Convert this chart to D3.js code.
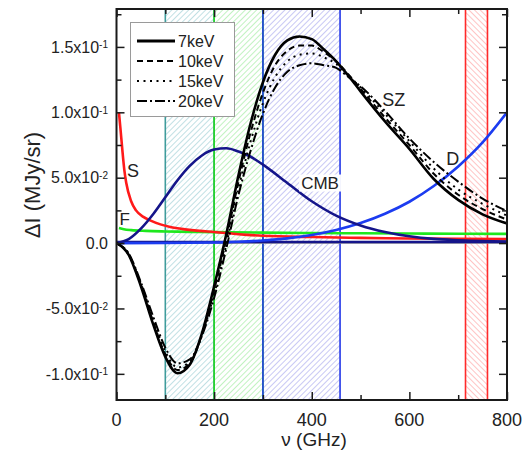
<!DOCTYPE html>
<html>
<head>
<meta charset="utf-8">
<style>
body{ margin:0; background:#fff; }
svg{ display:block; font-family:"Liberation Sans", Arial, sans-serif; }
.axis path{ display:none; }
.axis line{ stroke:#1a1a1a; stroke-width:1.5px; }
.axis text{ fill:#222; }
.curve{ fill:none; stroke-linejoin:round; }
</style>
</head>
<body>
<script src="https://cdn.jsdelivr.net/npm/d3@7/dist/d3.min.js"></script>
<script>
var WIDTH = 523, HEIGHT = 453;
var LEFT = 116.5, RIGHT = 507, TOP = 9, BOTTOM = 400;

// frequencies (GHz) and values (MJy/sr)
var szNu   = [0,25,50,75,100,125,150,175,200,225,250,275,300,325,350,375,400,425,450,475,500,550,600,650,700,750,800];
var sz7    = [0,-0.009,-0.033,-0.062,-0.087,-0.0995,-0.093,-0.069,-0.033,0.007,0.052,0.092,0.123,0.144,0.155,0.158,0.156,0.148,0.139,0.128,0.116,0.093,0.072,0.049,0.033,0.022,0.015];
var sz10   = [0,-0.0088,-0.032,-0.060,-0.085,-0.097,-0.092,-0.070,-0.036,0.003,0.047,0.085,0.115,0.136,0.147,0.151,0.151,0.146,0.139,0.129,0.118,0.096,0.075,0.053,0.037,0.026,0.018];
var sz15   = [0,-0.0085,-0.031,-0.058,-0.083,-0.095,-0.091,-0.070,-0.039,-0.001,0.042,0.078,0.107,0.127,0.139,0.144,0.145,0.142,0.137,0.128,0.119,0.099,0.078,0.057,0.041,0.030,0.021];
var sz20   = [0,-0.008,-0.030,-0.056,-0.080,-0.092,-0.089,-0.071,-0.042,-0.004,0.037,0.071,0.099,0.119,0.131,0.136,0.1375,0.136,0.134,0.127,0.120,0.101,0.080,0.062,0.047,0.034,0.0245];

var cmbNu  = [0,25,50,75,100,125,150,175,200,225,250,275,300,350,400,450,500,550,600,650,700,750,800];
var cmb    = [0,0.003,0.011,0.022,0.035,0.048,0.059,0.067,0.0715,0.0725,0.070,0.066,0.060,0.046,0.032,0.021,0.0135,0.0085,0.0052,0.0032,0.0022,0.0015,0.0012];

var dustNu = [0,100,200,250,300,350,400,450,500,550,600,650,700,750,800];
var dust   = [0,0.0001,0.0004,0.001,0.002,0.0036,0.0062,0.010,0.0153,0.0224,0.0316,0.0436,0.0586,0.077,0.1];

var syncNu = [5,8,12,16,20,30,40,55,70,90,110,140,170,200,250,300,400,500,600,700,800];
var sync   = [0.100,0.088,0.071,0.056,0.046,0.032,0.025,0.020,0.0172,0.0143,0.0123,0.0105,0.0093,0.0085,0.0068,0.0056,0.0046,0.0040,0.0035,0.0032,0.0030];

var ffNu   = [5,15,30,60,100,150,200,300,400,500,600,700,800];
var ff     = [0.0115,0.0106,0.0099,0.0093,0.0089,0.0086,0.0084,0.0080,0.0077,0.0075,0.0073,0.0071,0.0070];

var baseNu = [0,800];
var base   = [0.0008,0.0008];

// observing bands (GHz)
var bands = [
  {from:100, to:200, stroke:"#3f9c9c", hatch:"#a6d2d8", dir:45},
  {from:200, to:300, stroke:"#22d822", hatch:"#a6eca6", dir:45},
  {from:300, to:458, stroke:"#2438e8", hatch:"#b0b0f0", dir:45},
  {from:715, to:760, stroke:"#ff2a2a", hatch:"#ffaaaa", dir:-45}
];

var xMajor = [0,200,400,600,800];
var xMinor = [100,300,500,700];
var yMajor = [-0.1,-0.05,0,0.05,0.1,0.15];
var yMinor = [-0.075,-0.025,0.025,0.075,0.125,0.175];
var yLabels = [["-1.0x10","-1"],["-5.0x10","-2"],["0.0",""],["5.0x10","-2"],["1.0x10","-1"],["1.5x10","-1"]];

var legendNames = ["7keV","10keV","15keV","20keV"];
var szSeries = [sz7, sz10, sz15, sz20];
var dashes = [null, "6,4", "2,4.5", "10,3,2,3"];
var widths = [2.6, 2, 2, 2];

var xScale = d3.scaleLinear().domain([0,800]).range([LEFT, RIGHT]);
var yScale = d3.scaleLinear().domain([-0.12,0.179]).range([BOTTOM, TOP]);

var svg = d3.select("body").append("svg")
  .attr("width", WIDTH)
  .attr("height", HEIGHT);

var defs = svg.append("defs");
defs.append("clipPath").attr("id","plotClip")
  .append("rect")
    .attr("x", LEFT).attr("y", TOP)
    .attr("width", RIGHT-LEFT).attr("height", BOTTOM-TOP);

bands.forEach(function(b, i){
  var p = defs.append("pattern")
    .attr("id", "hatch"+i)
    .attr("patternUnits", "userSpaceOnUse")
    .attr("width", 4).attr("height", 4)
    .attr("patternTransform", "rotate(" + b.dir + ")");
  p.append("line")
    .attr("x1", 0).attr("y1", 0).attr("x2", 0).attr("y2", 4)
    .attr("stroke", b.hatch).attr("stroke-width", 1.4);
});

// bands
var bandG = svg.append("g");
bands.forEach(function(b, i){
  bandG.append("rect")
    .attr("x", xScale(b.from)).attr("y", TOP)
    .attr("width", xScale(b.to)-xScale(b.from)).attr("height", BOTTOM-TOP)
    .attr("fill", "url(#hatch"+i+")");
});
bands.forEach(function(b){
  [b.from, b.to].forEach(function(v){
    bandG.append("line")
      .attr("x1", xScale(v)).attr("x2", xScale(v))
      .attr("y1", TOP).attr("y2", BOTTOM)
      .attr("stroke", b.stroke).attr("stroke-width", 1.6);
  });
});

var plotArea = svg.append("g").attr("clip-path","url(#plotClip)");

var line = d3.line()
  .x(function(d){ return xScale(d[0]); })
  .y(function(d){ return yScale(d[1]); })
  .curve(d3.curveMonotoneX);

function pairs(xs, ys){ return xs.map(function(x,i){ return [x, ys[i]]; }); }

// zero line
plotArea.append("line")
  .attr("x1", xScale(0)).attr("x2", xScale(800))
  .attr("y1", yScale(0)).attr("y2", yScale(0))
  .attr("stroke", "#999").attr("stroke-width", 1.2);

function drawCurve(xs, ys, color, w, dash){
  var p = plotArea.append("path")
    .attr("class","curve")
    .attr("d", line(pairs(xs, ys)))
    .attr("stroke", color)
    .attr("stroke-width", w);
  if (dash) p.attr("stroke-dasharray", dash);
  return p;
}

drawCurve(ffNu, ff, "#1ee81e", 2.6);
drawCurve(syncNu, sync, "#ff1a1a", 2.6);
drawCurve(baseNu, base, "#15158a", 2.6);
drawCurve(dustNu, dust, "#1c3cf0", 2.6);
drawCurve(cmbNu, cmb, "#15158a", 2.6);
szSeries.forEach(function(s, i){
  drawCurve(szNu, s, "#000", widths[i], dashes[i]);
});

// curve labels
var notes = [
  {t:"S",   nu:34,  v:0.0552, size:18},
  {t:"F",   nu:17,  v:0.0185, size:17},
  {t:"CMB", nu:417, v:0.0464, size:17, box:true},
  {t:"SZ",  nu:568, v:0.110,  size:18},
  {t:"D",   nu:689, v:0.0648, size:18}
];
notes.forEach(function(n){
  var g = svg.append("g");
  var t = g.append("text")
    .attr("x", xScale(n.nu)).attr("y", yScale(n.v))
    .attr("dy", "0.36em")
    .attr("text-anchor", "middle")
    .style("font-size", n.size + "px")
    .attr("fill", "#222")
    .text(n.t);
  if (n.box){
    var bb = t.node().getBBox();
    g.insert("rect", "text")
      .attr("x", bb.x-2).attr("y", bb.y+1)
      .attr("width", bb.width+4).attr("height", bb.height-2)
      .attr("fill", "#fff");
  }
});

// axes: ticks point inward on all four sides
function tickAxis(axisFn, scale, values, size, transform){
  svg.append("g").attr("class","axis")
    .attr("transform", transform)
    .call(axisFn(scale).tickValues(values).tickSize(-size).tickFormat(""));
}
tickAxis(d3.axisBottom, xScale, xMajor, 8, "translate(0," + BOTTOM + ")");
tickAxis(d3.axisBottom, xScale, xMinor, 5, "translate(0," + BOTTOM + ")");
tickAxis(d3.axisTop, xScale, xMajor, 8, "translate(0," + TOP + ")");
tickAxis(d3.axisTop, xScale, xMinor, 5, "translate(0," + TOP + ")");
tickAxis(d3.axisLeft, yScale, yMajor, 8, "translate(" + LEFT + ",0)");
tickAxis(d3.axisLeft, yScale, yMinor, 5, "translate(" + LEFT + ",0)");
tickAxis(d3.axisRight, yScale, yMajor, 8, "translate(" + RIGHT + ",0)");
tickAxis(d3.axisRight, yScale, yMinor, 5, "translate(" + RIGHT + ",0)");

// frame
svg.append("rect")
  .attr("x", LEFT).attr("y", TOP)
  .attr("width", RIGHT-LEFT).attr("height", BOTTOM-TOP)
  .attr("fill", "none").attr("stroke", "#1a1a1a").attr("stroke-width", 2);

// x tick labels
svg.append("g").selectAll("text")
  .data(xMajor).enter().append("text")
    .attr("x", function(d){ return xScale(d); })
    .attr("y", 426)
    .attr("text-anchor", "middle")
    .style("font-size", "18px")
    .attr("fill", "#222")
    .text(function(d){ return d; });

// y tick labels with superscript exponents
var yl = svg.append("g").selectAll("text")
  .data(yMajor).enter().append("text")
    .attr("x", 108)
    .attr("y", function(d){ return yScale(d); })
    .attr("dy", "0.36em")
    .attr("text-anchor", "end")
    .style("font-size", "16px")
    .attr("fill", "#222");
yl.append("tspan").text(function(d,i){ return yLabels[i][0]; });
yl.append("tspan")
  .attr("dy", "-0.45em")
  .style("font-size", "10px")
  .text(function(d,i){ return yLabels[i][1]; });

// axis titles
svg.append("text")
  .attr("x", 314).attr("y", 446)
  .attr("text-anchor", "middle")
  .style("font-size", "19px")
  .attr("fill", "#222")
  .text("\u03bd (GHz)");

svg.append("text")
  .attr("transform", "translate(40,185) rotate(-90)")
  .attr("text-anchor", "middle")
  .style("font-size", "22px")
  .attr("fill", "#222")
  .text("\u0394I (MJy/sr)");

// legend
var legend = svg.append("g");
legend.append("rect")
  .attr("x", 130.5).attr("y", 22.5)
  .attr("width", 104).attr("height", 94)
  .attr("fill", "#fff").attr("stroke", "#9a9a9a").attr("stroke-width", 1);
legendNames.forEach(function(name, i){
  var y = 41 + i*20;
  var l = legend.append("line")
    .attr("x1", 137).attr("x2", 175)
    .attr("y1", y).attr("y2", y)
    .attr("stroke", "#000")
    .attr("stroke-width", i === 0 ? 3 : 2);
  if (dashes[i]) l.attr("stroke-dasharray", dashes[i]);
  legend.append("text")
    .attr("x", 178).attr("y", y)
    .attr("dy", "0.36em")
    .style("font-size", "16px")
    .attr("fill", "#222")
    .text(name);
});
</script>
</body>
</html>
